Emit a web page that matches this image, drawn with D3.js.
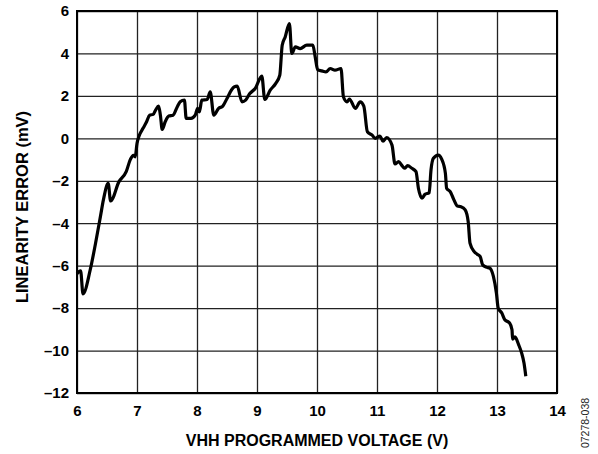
<!DOCTYPE html>
<html>
<head>
<meta charset="utf-8">
<script src="https://cdn.jsdelivr.net/npm/d3@7"></script>
<style>
  body { margin: 0; background: #fff; }
  svg text { font-family: "Liberation Sans", Arial, sans-serif; }
</style>
</head>
<body>
<div id="chart"></div>
<script>
// VHH programmed voltage (V)
let voltage = [6.00, 6.06, 6.10, 6.22, 6.31, 6.39, 6.44, 6.52, 6.56, 6.70, 6.82, 6.89, 6.94, 6.97,
  7.00, 7.04, 7.10, 7.16, 7.21, 7.27, 7.31, 7.36, 7.39, 7.42, 7.47, 7.53, 7.60, 7.67, 7.72, 7.79,
  7.82, 7.90, 7.97, 8.01, 8.04, 8.08, 8.17, 8.22, 8.28, 8.36, 8.43, 8.50, 8.58, 8.62, 8.67, 8.75,
  8.81, 8.88, 8.97, 9.08, 9.13, 9.22, 9.31, 9.38, 9.42, 9.47, 9.54, 9.58, 9.64, 9.72, 9.83, 9.93,
  9.97, 10.01, 10.08, 10.15, 10.22, 10.30, 10.40, 10.44, 10.50, 10.54, 10.64, 10.72, 10.78, 10.84,
  10.92, 10.97, 11.05, 11.10, 11.16, 11.25, 11.30, 11.36, 11.41, 11.46, 11.51, 11.58, 11.65, 11.69,
  11.75, 11.80, 11.87, 11.90, 11.94, 12.02, 12.08, 12.14, 12.16, 12.22, 12.27, 12.34, 12.40, 12.47,
  12.52, 12.55, 12.62, 12.67, 12.72, 12.76, 12.82, 12.88, 12.94, 12.99, 13.02, 13.08, 13.13, 13.21,
  13.25, 13.26, 13.30, 13.36, 13.41, 13.45, 13.48]

// linearity error (mV)
let linError = [-6.38, -6.25, -7.33, -6.2, -4.93, -3.69, -2.9, -2.12, -2.95, -2.04, -1.57, -0.99, -0.8, -0.87,
  -0.24, 0.15, 0.47, 0.78, 1.09, 1.13, 1.33, 1.52, 1.09, 0.42, 0.78, 1.05, 1.09, 1.48, 1.72, 1.8,
  0.94, 0.94, 1.09, 1.41, 1.25, 1.8, 1.83, 2.19, 1.09, 1.41, 1.52, 1.88, 2.3, 2.42, 2.46, 1.72,
  1.8, 2.11, 2.35, 2.93, 1.83, 2.27, 2.58, 2.98, 4.39, 4.78, 5.41, 4.0, 4.31, 4.23, 4.39, 4.39,
  3.84, 3.24, 3.18, 3.13, 3.29, 3.21, 3.29, 1.96, 1.72, 1.85, 1.41, 1.72, 1.52, 0.31,
  0.15, 0.0, 0.11, -0.13, 0.04, -0.32, -1.21, -1.1, -1.26, -1.41, -1.29, -1.41, -1.57, -2.35,
  -2.82, -2.64, -2.56, -1.49, -0.94, -0.79, -0.99, -1.65, -2.35, -2.51, -2.82, -3.19, -3.22, -3.37,
  -3.93, -4.94, -5.34, -5.46, -5.57, -5.96, -6.07, -6.12, -6.51, -7.29, -8.0, -8.23, -8.55, -8.7,
  -9.02, -9.46, -9.36, -9.72, -10.11, -10.59, -11.21]

let xTicks = [6, 7, 8, 9, 10, 11, 12, 13, 14]
let yTicks = [-12, -10, -8, -6, -4, -2, 0, 2, 4, 6]

let margin = { top: 11, right: 41, bottom: 61, left: 77 }
let width = 598 - margin.left - margin.right
let height = 454 - margin.top - margin.bottom

let svg = d3.select('#chart')
  .append('svg')
    .attr('width', 598)
    .attr('height', 454)

let plot = svg.append('g')
  .attr('transform', `translate(${margin.left}, ${margin.top})`)

let xScale = d3.scaleLinear().domain([6, 14]).range([0, width])
let yScale = d3.scaleLinear().domain([-12, 6]).range([height, 0])

let fmt = d => d < 0 ? '\u2013' + Math.abs(d) : String(d)

// grid
plot.append('g')
  .call(d3.axisBottom(xScale).tickValues(xTicks).tickSize(height).tickFormat(''))
  .call(g => g.select('.domain').remove())
  .call(g => g.selectAll('line').attr('stroke', '#222').attr('stroke-width', 1.3))

plot.append('g')
  .attr('transform', `translate(${width}, 0)`)
  .call(d3.axisLeft(yScale).tickValues(yTicks).tickSize(width).tickFormat(''))
  .call(g => g.select('.domain').remove())
  .call(g => g.selectAll('line').attr('stroke', '#222').attr('stroke-width', 1.3))

// tick labels
plot.append('g')
  .attr('transform', `translate(0, ${height})`)
  .call(d3.axisBottom(xScale).tickValues(xTicks).tickSize(0).tickPadding(12).tickFormat(fmt))
  .call(g => g.select('.domain').remove())
  .call(g => g.selectAll('text')
    .attr('font-size', 15).attr('font-weight', 'bold').attr('fill', '#000')
    .attr('font-family', '"Liberation Sans", Arial, sans-serif'))

plot.append('g')
  .call(d3.axisLeft(yScale).tickValues(yTicks).tickSize(0).tickPadding(8).tickFormat(fmt))
  .call(g => g.select('.domain').remove())
  .call(g => g.selectAll('text')
    .attr('font-size', 15).attr('font-weight', 'bold').attr('fill', '#000')
    .attr('font-family', '"Liberation Sans", Arial, sans-serif'))

// frame
plot.append('rect')
  .attr('width', width)
  .attr('height', height)
  .attr('fill', 'none')
  .attr('stroke', '#000')
  .attr('stroke-width', 2)

// curve
let data = voltage.map((v, i) => ({ v: v, e: linError[i] }))
let line = d3.line()
  .x(d => xScale(d.v))
  .y(d => yScale(d.e))
  .curve(d3.curveMonotoneX)

plot.append('path')
  .datum(data)
  .attr('d', line)
  .attr('fill', 'none')
  .attr('stroke', '#000')
  .attr('stroke-width', 3.2)
  .attr('stroke-linejoin', 'round')

// axis titles
svg.append('text')
  .attr('x', margin.left + width / 2)
  .attr('y', 446)
  .attr('text-anchor', 'middle')
  .attr('font-size', 16)
  .attr('font-weight', 'bold')
  .text('VHH PROGRAMMED VOLTAGE (V)')

svg.append('text')
  .attr('transform', `translate(28, 207) rotate(-90)`)
  .attr('text-anchor', 'middle')
  .attr('font-size', 16.5)
  .attr('font-weight', 'bold')
  .text('LINEARITY ERROR (mV)')

svg.append('text')
  .attr('transform', 'translate(589, 423) rotate(-90)')
  .attr('text-anchor', 'middle')
  .attr('font-size', 10.5)
  .attr('fill', '#222')
  .text('07278-038')
</script>
</body>
</html>
